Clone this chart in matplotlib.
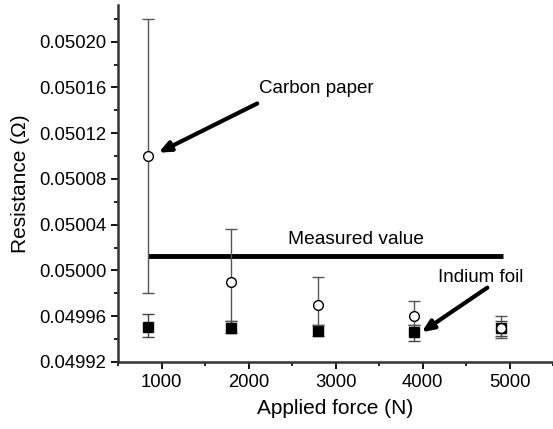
import matplotlib
matplotlib.use("Agg")
import matplotlib.pyplot as plt
from matplotlib.ticker import MultipleLocator, FormatStrFormatter

plt.rcParams['font.family'] = ['Liberation Sans', 'DejaVu Sans']

force = [850, 1800, 2800, 3900, 4900]
carbon = [0.05010, 0.049990, 0.049970, 0.049960, 0.049950]
carbon_lo = [0.049980, 0.049956, 0.049952, 0.049952, 0.049941]
carbon_hi = [0.050220, 0.050036, 0.049994, 0.049973, 0.049960]
indium = [0.049951, 0.049950, 0.049947, 0.049946, 0.049950]
indium_lo = [0.049942, 0.049945, 0.049943, 0.049938, 0.049943]
indium_hi = [0.049962, 0.049956, 0.049952, 0.049952, 0.049956]
measured = 0.050013
measured_x = [850, 4930]

fig = plt.figure(figsize=(5.53, 4.29), dpi=100)
ax = fig.add_axes([0.2134, 0.1562, 0.7866, 0.8318])

ax.errorbar(force, indium,
            yerr=[[c - l for c, l in zip(indium, indium_lo)], [h - c for c, h in zip(indium, indium_hi)]],
            fmt='s', mfc='black', mec='black', ms=7, ecolor='#444444', elinewidth=1.0,
            capsize=4, capthick=1.0, zorder=3)
ax.errorbar(force, carbon,
            yerr=[[c - l for c, l in zip(carbon, carbon_lo)], [h - c for c, h in zip(carbon, carbon_hi)]],
            fmt='o', mfc='white', mec='black', mew=1.0, ms=7, ecolor='#555555', elinewidth=1.0,
            capsize=4, capthick=1.0, zorder=4)
ax.plot(measured_x, [measured, measured], color='black', lw=3.5, solid_capstyle='butt', zorder=2)

ax.text(3233, 0.050027, 'Measured value', ha='center', va='center', fontsize=13.8)
ax.text(2122, 0.050159, 'Carbon paper', ha='left', va='center', fontsize=13.5)
ax.text(4664, 0.049994, 'Indium foil', ha='center', va='center', fontsize=13.5)
arrow = dict(arrowstyle='-|>,head_length=0.7,head_width=0.3', color='black', lw=3,
             shrinkA=0, shrinkB=0)
ax.annotate('', xy=(965, 0.050103), xytext=(2100, 0.050146), arrowprops=arrow)
ax.annotate('', xy=(3990, 0.049946), xytext=(4745, 0.049985), arrowprops=arrow)

ax.set_xlim(500, 5500)
ax.set_ylim(0.04992, 0.050232)
ax.xaxis.set_major_locator(MultipleLocator(1000))
ax.xaxis.set_minor_locator(MultipleLocator(500))
ax.yaxis.set_major_locator(MultipleLocator(0.00004))
ax.yaxis.set_minor_locator(MultipleLocator(0.00002))
ax.yaxis.set_major_formatter(FormatStrFormatter('%.5f'))
for s in ['top', 'right']:
    ax.spines[s].set_visible(False)
for s in ['left', 'bottom']:
    ax.spines[s].set_linewidth(1.8)
    ax.spines[s].set_color('#333333')
ax.tick_params(which='major', direction='out', length=5, width=1.3, labelsize=13.3)
ax.tick_params(which='minor', direction='out', length=3, width=1.2)
ax.set_xlabel('Applied force (N)', fontsize=15, labelpad=6)
ax.set_ylabel('Resistance (Ω)', fontsize=15, labelpad=6)

fig.savefig('out.png', dpi=100)
